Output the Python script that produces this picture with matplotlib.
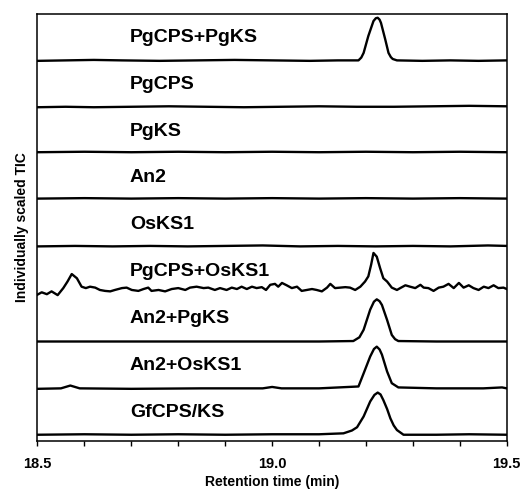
import matplotlib.pyplot as plt
from matplotlib.ticker import MultipleLocator, FormatStrFormatter

plt.rcParams['font.family'] = ['Liberation Sans', 'DejaVu Sans']
plt.rcParams['font.weight'] = 'bold'

# sample names, bottom to top
labels = ['GfCPS/KS', 'An2+OsKS1', 'An2+PgKS', 'PgCPS+OsKS1', 'OsKS1',
          'An2', 'PgKS', 'PgCPS', 'PgCPS+PgKS']

# retention time (min) / individually scaled intensity
t_gf = [18.50, 18.60, 18.70, 18.80, 18.90, 19.00, 19.10, 19.152, 19.170, 19.181, 19.195,
        19.209, 19.218, 19.225, 19.231, 19.237, 19.245, 19.252, 19.259, 19.266, 19.280,
        19.35, 19.42, 19.50]
i_gf = [0.02, 0.03, 0.02, 0.03, 0.02, 0.03, 0.03, 0.05, 0.11, 0.18, 0.41,
        0.73, 0.87, 0.92, 0.88, 0.76, 0.57, 0.37, 0.22, 0.12, 0.02,
        0.02, 0.03, 0.02]

t_an2os = [18.50, 18.55, 18.57, 18.59, 18.70, 18.85, 18.98, 19.00, 19.02, 19.10,
           19.184, 19.195, 19.209, 19.217, 19.223, 19.229, 19.234, 19.245, 19.255,
           19.269, 19.35, 19.45, 19.49, 19.50]
i_an2os = [0.00, 0.01, 0.07, 0.01, 0.00, 0.01, 0.01, 0.04, 0.01, 0.01,
           0.05, 0.33, 0.69, 0.85, 0.90, 0.84, 0.73, 0.37, 0.12,
           0.03, 0.01, 0.01, 0.03, 0.01]

t_an2pg = [18.50, 18.65, 18.80, 18.95, 19.10, 19.173, 19.186, 19.195, 19.209, 19.217,
           19.223, 19.229, 19.234, 19.245, 19.255, 19.262, 19.269, 19.35, 19.50]
i_an2pg = [0.01, 0.01, 0.01, 0.01, 0.01, 0.02, 0.10, 0.26, 0.69, 0.86,
           0.91, 0.87, 0.79, 0.47, 0.15, 0.06, 0.02, 0.01, 0.01]

t_pgos = [18.500, 18.509, 18.520, 18.530, 18.543, 18.555, 18.564, 18.573, 18.584,
          18.594, 18.603, 18.612, 18.623, 18.633, 18.644, 18.655, 18.665, 18.680,
          18.690, 18.701, 18.715, 18.726, 18.736, 18.743, 18.758, 18.772, 18.786,
          18.800, 18.815, 18.825, 18.839, 18.854, 18.864, 18.878, 18.889, 18.903,
          18.914, 18.925, 18.935, 18.946, 18.957, 18.967, 18.978, 18.987, 18.996,
          19.006, 19.013, 19.021, 19.031, 19.042, 19.053, 19.063, 19.074, 19.085,
          19.095, 19.106, 19.117, 19.124, 19.134, 19.145, 19.156, 19.166, 19.177,
          19.188, 19.198, 19.205, 19.211, 19.216, 19.223, 19.230, 19.237, 19.245,
          19.255, 19.266, 19.273, 19.284, 19.294, 19.305, 19.316, 19.323, 19.333,
          19.344, 19.355, 19.365, 19.376, 19.387, 19.398, 19.408, 19.419, 19.429,
          19.440, 19.451, 19.461, 19.472, 19.482, 19.493, 19.500]
i_pgos = [0.01, 0.06, 0.02, 0.08, 0.00, 0.15, 0.29, 0.45, 0.36,
          0.18, 0.15, 0.18, 0.16, 0.11, 0.09, 0.08, 0.11, 0.15,
          0.16, 0.11, 0.09, 0.13, 0.16, 0.09, 0.11, 0.08, 0.13,
          0.15, 0.11, 0.16, 0.18, 0.15, 0.16, 0.11, 0.15, 0.11,
          0.16, 0.13, 0.18, 0.13, 0.18, 0.15, 0.17, 0.11, 0.22,
          0.24, 0.18, 0.26, 0.21, 0.15, 0.18, 0.09, 0.11, 0.13,
          0.11, 0.08, 0.16, 0.24, 0.15, 0.16, 0.17, 0.16, 0.11,
          0.18, 0.29, 0.40, 0.65, 0.90, 0.82, 0.58, 0.36, 0.29,
          0.16, 0.11, 0.15, 0.21, 0.18, 0.15, 0.22, 0.16, 0.15,
          0.09, 0.16, 0.18, 0.24, 0.15, 0.26, 0.16, 0.21, 0.15,
          0.11, 0.18, 0.15, 0.21, 0.15, 0.16, 0.13]

t_os = [18.50, 18.58, 18.66, 18.74, 18.82, 18.90, 18.98, 19.06, 19.14, 19.22,
        19.30, 19.38, 19.46, 19.50]
i_os = [0.04, 0.05, 0.04, 0.05, 0.04, 0.05, 0.06, 0.04, 0.05, 0.04,
        0.05, 0.04, 0.06, 0.05]

t_an2 = [18.50, 18.60, 18.70, 18.80, 18.90, 19.00, 19.10, 19.20, 19.30, 19.40, 19.50]
i_an2 = [0.06, 0.07, 0.06, 0.07, 0.06, 0.07, 0.06, 0.07, 0.06, 0.07, 0.06]

t_pgks = [18.50, 18.60, 18.70, 18.80, 18.90, 19.00, 19.10, 19.20, 19.30, 19.40, 19.50]
i_pgks = [0.05, 0.06, 0.05, 0.06, 0.05, 0.06, 0.05, 0.06, 0.05, 0.06, 0.05]

t_pgcps = [18.50, 18.56, 18.62, 18.70, 18.78, 18.86, 18.94, 19.02, 19.10, 19.18,
           19.26, 19.34, 19.42, 19.50]
i_pgcps = [0.01, 0.02, 0.01, 0.02, 0.03, 0.02, 0.01, 0.02, 0.03, 0.02,
           0.02, 0.03, 0.04, 0.03]

t_pgpg = [18.50, 18.56, 18.62, 18.68, 18.76, 18.84, 18.92, 19.00, 19.08, 19.14,
          19.184, 19.190, 19.195, 19.205, 19.216, 19.221, 19.225, 19.229, 19.232,
          19.241, 19.248, 19.253, 19.257, 19.266, 19.32, 19.38, 19.44, 19.50]
i_pgpg = [0.00, 0.01, 0.02, 0.01, 0.00, 0.01, 0.02, 0.01, 0.00, 0.01,
          0.01, 0.07, 0.17, 0.53, 0.85, 0.91, 0.92, 0.88, 0.81,
          0.46, 0.17, 0.08, 0.04, 0.01, 0.00, 0.01, 0.00, 0.01]

times = [t_gf, t_an2os, t_an2pg, t_pgos, t_os, t_an2, t_pgks, t_pgcps, t_pgpg]
traces = [i_gf, i_an2os, i_an2pg, i_pgos, i_os, i_an2, i_pgks, i_pgcps, i_pgpg]

fig = plt.figure(figsize=(5.22, 4.93), dpi=100)
ax = fig.add_axes([0.0718, 0.1061, 0.899, 0.8655])

for k in range(len(labels)):
    ys = [v + k for v in traces[k]]
    ax.plot(times[k], ys, color='black', lw=1.7, solid_joinstyle='round')
    ax.text(18.697, k + 0.5, labels[k], fontsize=14, fontweight='bold',
            ha='left', va='center')

ax.set_xlim(18.5, 19.5)
ax.set_ylim(-0.107, 9.0)
ax.set_yticks([])
ax.xaxis.set_major_locator(MultipleLocator(0.5))
ax.xaxis.set_minor_locator(MultipleLocator(0.1))
ax.xaxis.set_major_formatter(FormatStrFormatter('%.1f'))
ax.tick_params(axis='x', which='both', direction='out', length=3.5, width=1.0,
               labelsize=10.5, pad=8)
for s in ax.spines.values():
    s.set_linewidth(1.1)

ax.set_xlabel('Retention time (min)', fontsize=10, fontweight='bold', labelpad=3)
ax.set_ylabel('Individually scaled TIC', fontsize=10, fontweight='bold', labelpad=6)

fig.savefig('out.png', dpi=100)
